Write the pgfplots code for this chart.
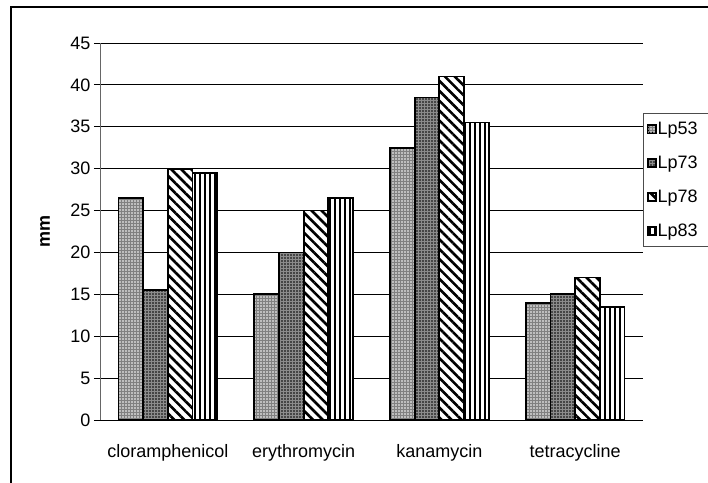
\documentclass[border=0pt]{standalone}
\usepackage{pgfplots}
\pgfplotsset{compat=1.18}
\usetikzlibrary{patterns,patterns.meta}
\usepackage{fontspec}
\setmainfont{Liberation Sans}
\newcommand\f{\fontsize{18bp}{21bp}\selectfont}

\begin{document}
\begin{tikzpicture}
\useasboundingbox (0,0) rectangle (708bp,483bp);
% outer frame of the chart area
\draw[line width=1.5bp] (11bp,-10bp) -- (11bp,476bp) -- (720bp,476bp);
\begin{axis}[
    at={(100bp,63bp)}, anchor=south west,
    scale only axis, width=543bp, height=377bp,
    ybar=0pt, bar width=0.182,
    xmin=0.5, xmax=4.5, ymin=0, ymax=45,
    xtick={1,2,3,4},
    xticklabels={cloramphenicol,erythromycin,kanamycin,tetracycline},
    major x tick style={draw=none},
    extra x ticks={0.5,1.5,2.5,3.5,4.5}, extra x tick labels={},
    extra x tick style={grid=none, major tick style={draw=black, line width=0.8bp}},
    ytick={0,5,...,45},
    ymajorgrids, grid style={black, line width=0.8bp},
    axis x line*=bottom, axis y line*=left,
    x axis line style={black, line width=1bp},
    y axis line style={black!60, line width=1bp},
    tick align=outside, major tick length=6bp,
    ytick style={black, line width=0.8bp},
    /pgf/number format/assume math mode=true,
    ticklabel style={font=\f},
    xticklabel style={yshift=-15bp},
    ylabel={\bfseries mm},
    ylabel style={font=\f, at={(axis description cs:-0.1013,0.5)}, anchor=center},
    legend cell align=left,
    legend style={at={(1,0.814)}, anchor=north west, draw=black!70, line width=0.8bp,
        font=\f, inner xsep=4bp, inner ysep=7bp, row sep=17bp, overlay,
        nodes={inner sep=1.5bp}},
    legend image code/.code={\draw[#1, line width=0.8bp] (0bp,-4bp) rectangle (8bp,4bp);},
]

\addplot[draw=black, line width=1.8bp, preaction={fill=black!50},
    pattern={Dots[distance=3bp,radius=0.85bp]}, pattern color=white]
    coordinates {(1,26.5)(2,15)(3,32.5)(4,14)};
\addlegendentry{Lp53\rule{12bp}{0pt}}

\addplot[draw=black, line width=1.8bp, preaction={fill=black!45},
    pattern={Dots[distance=3bp,radius=0.85bp]}, pattern color=black]
    coordinates {(1,15.5)(2,20)(3,38.5)(4,15)};
\addlegendentry{Lp73\rule{12bp}{0pt}}

\addplot[draw=black, line width=1.8bp, preaction={fill=white},
    pattern={Lines[angle=-45,distance=7bp,line width=2.6bp]}, pattern color=black]
    coordinates {(1,30)(2,25)(3,41)(4,17)};
\addlegendentry{Lp78\rule{12bp}{0pt}}

\addplot[draw=black, line width=1.8bp, preaction={fill=white},
    pattern={Lines[angle=90,distance=5bp,line width=2bp]}, pattern color=black]
    coordinates {(1,29.5)(2,26.5)(3,35.5)(4,13.5)};
\addlegendentry{Lp83\rule{12bp}{0pt}}

\end{axis}
\end{tikzpicture}
\end{document}
